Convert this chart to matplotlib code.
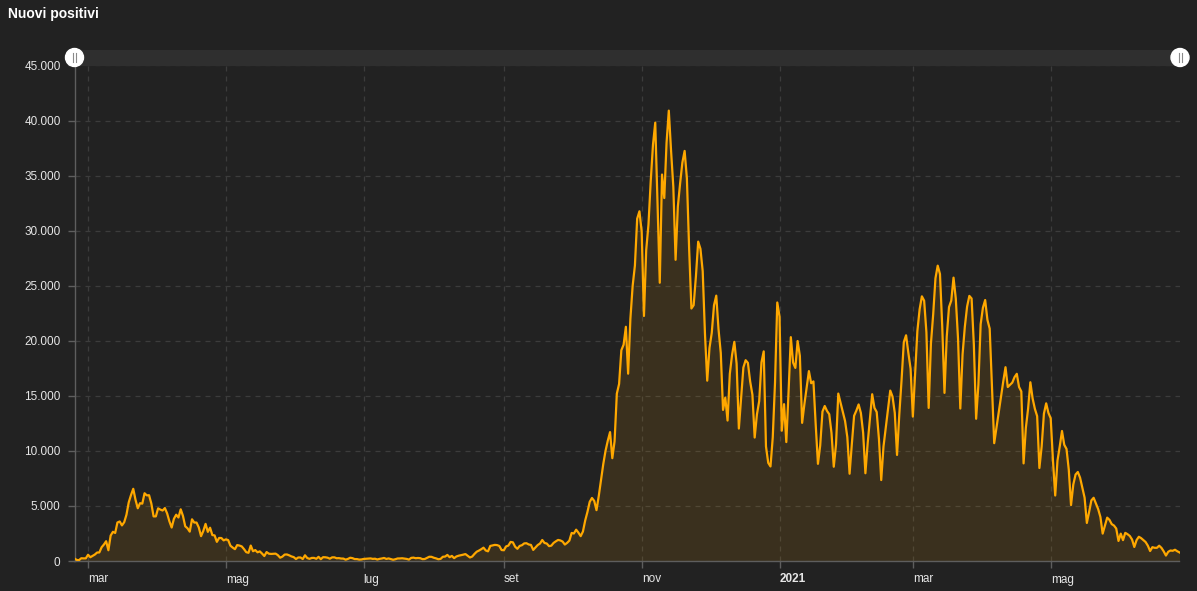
import numpy as np
import matplotlib
matplotlib.use("Agg")
import matplotlib.pyplot as plt
import matplotlib.dates as mdates
from matplotlib.ticker import FuncFormatter, FixedLocator
from matplotlib.patches import Rectangle, Circle
import matplotlib.transforms as mtransforms

# ---- data: daily new positives (Italy), one list per month ----
feb20 = [221, 93, 78, 250, 238, 240]  # from 24 Feb 2020
mar20 = [566, 342, 466, 587, 769, 778, 1247, 1492, 1797, 977, 2313, 2651, 2547, 3497, 3590, 3233,
         3526, 4207, 5322, 5986, 6557, 5560, 4789, 5249, 5210, 6153, 5959, 5974, 5217, 4050, 4053]
apr20 = [4782, 4668, 4585, 4805, 4316, 3599, 3039, 3836, 4204, 3951, 4694, 4092, 3153, 2972, 2667,
         3786, 3493, 3491, 3047, 2256, 2729, 3370, 2646, 3021, 2357, 2324, 1739, 2091, 2086, 1872]
may20 = [1965, 1900, 1389, 1221, 1075, 1444, 1401, 1327, 1083, 802, 744, 1402, 888, 992, 789, 875,
         675, 451, 813, 665, 642, 652, 669, 531, 300, 397, 584, 593, 516, 416, 355]
jun20 = [178, 318, 321, 177, 518, 270, 197, 280, 283, 202, 379, 163, 346, 338, 301, 210, 329, 333,
         251, 262, 224, 218, 122, 190, 296, 259, 175, 174, 126, 142]
jul20 = [187, 201, 223, 235, 192, 208, 138, 193, 229, 276, 188, 234, 169, 114, 162, 230, 233, 249,
         219, 190, 129, 282, 306, 252, 275, 255, 170, 181, 289, 386, 379]
aug20 = [295, 239, 159, 190, 384, 402, 552, 347, 463, 259, 412, 481, 523, 574, 629, 479, 320, 403,
         642, 845, 947, 1071, 1210, 953, 878, 1367, 1411, 1462, 1444, 1365, 996]
sep20 = [978, 1326, 1397, 1733, 1695, 1297, 1108, 1370, 1434, 1597, 1616, 1501, 1458, 1008, 1229,
         1452, 1585, 1907, 1638, 1587, 1350, 1392, 1640, 1786, 1912, 1869, 1766, 1494, 1648, 1851]
oct20 = [2548, 2499, 2844, 2578, 2257, 2677, 3678, 4458, 5372, 5724, 5456, 4619, 5901, 7332, 8804,
         10010, 10925, 11705, 9338, 10874, 15199, 16079, 19143, 19644, 21273, 17012, 21994, 24991,
         26831, 31084, 31758]
nov20 = [29907, 22253, 28244, 30550, 34505, 37809, 39811, 32616, 25271, 35098, 32961, 37978, 40902,
         37255, 33979, 27354, 32191, 34283, 36176, 37242, 34767, 28337, 22930, 23232, 25853, 29003,
         28352, 26323, 20648, 16377]
dec20 = [19350, 20709, 23225, 24099, 21052, 18887, 13720, 14842, 12756, 16999, 18727, 19903, 17938,
         12030, 14844, 17572, 18236, 17992, 16308, 15104, 11212, 13318, 14522, 18040, 19037, 10407,
         8913, 8585, 11224, 16202, 23477]
jan21 = [22211, 11831, 14245, 10800, 15378, 20331, 18020, 17533, 19978, 18627, 12545, 14242, 15774,
         17246, 16146, 16310, 12415, 8824, 10497, 13571, 14078, 13633, 13331, 11629, 8561, 10593,
         15204, 14372, 13574, 12715, 11252]
feb21 = [7925, 10630, 13189, 13659, 14218, 13442, 11641, 7970, 10680, 12956, 15146, 13908, 13532,
         11068, 7351, 10386, 12074, 13762, 15479, 14931, 13452, 9630, 13314, 16424, 19886, 20499,
         18916, 17455]
mar21 = [13114, 17083, 20884, 22865, 24036, 23641, 20765, 13902, 19749, 22409, 25673, 26824, 26062,
         21315, 15267, 20396, 23059, 23649, 25735, 23832, 20159, 13846, 18765, 21267, 23100, 24076,
         23839, 19611, 12916, 16017, 21500]
apr21 = [23000, 23700, 21900, 21100, 15800, 10700, 12100, 13500, 14900, 16300, 17600, 15800, 16000,
         16200, 16700, 17000, 15800, 15400, 8864, 12074, 13844, 16232, 14761, 13817, 13158, 8444,
         10404, 13385, 14320, 13446]
may21 = [12965, 9148, 5948, 9116, 10404, 11807, 10554, 10176, 8292, 5080, 6946, 7852, 8085, 7567,
         6659, 5753, 3455, 4452, 5506, 5741, 5218, 4717, 3995, 2490, 3224, 3937, 3738, 3351, 3220,
         2949, 1820]
jun21 = [2483, 1896, 2557, 2436, 2275, 1953, 1273, 1896, 2199, 2079, 1901, 1723, 1390, 907, 1255,
         1199, 1197, 1390, 1197, 880, 495, 835, 952, 927, 1021, 887, 778]

month_starts = ["2020-02-24", "2020-03-01", "2020-04-01", "2020-05-01", "2020-06-01", "2020-07-01",
                "2020-08-01", "2020-09-01", "2020-10-01", "2020-11-01", "2020-12-01", "2021-01-01",
                "2021-02-01", "2021-03-01", "2021-04-01", "2021-05-01", "2021-06-01"]
month_values = [feb20, mar20, apr20, may20, jun20, jul20, aug20, sep20, oct20, nov20, dec20,
                jan21, feb21, mar21, apr21, may21, jun21]

tick_dates = ["2020-03-01", "2020-05-01", "2020-07-01", "2020-09-01", "2020-11-01",
              "2021-01-01", "2021-03-01", "2021-05-01"]
tick_labels = ["mar", "mag", "lug", "set", "nov", "2021", "mar", "mag"]

title = "Nuovi positivi"

# ---- build series ----
dates = np.concatenate([np.datetime64(s) + np.arange(len(v)) for s, v in zip(month_starts, month_values)])
values = np.concatenate([np.array(v, dtype=float) for v in month_values])
x = mdates.date2num(dates.astype("datetime64[s]").astype(object))

BG = "#222222"
ORANGE = "#ffa800"
GRID = "#3c3c3c"
AX = "#5e5e5e"
TXT = "#e6e6e6"

W, H = 1197, 591
fig = plt.figure(figsize=(W / 100, H / 100), dpi=100, facecolor=BG)
plt.rcParams["font.family"] = ["Liberation Sans", "DejaVu Sans"]

left, right, top, bottom = 74.5, 1179.5, 65.5, 561
ax = fig.add_axes([left / W, (H - bottom) / H, (right - left) / W, (bottom - top) / H])
ax.set_facecolor(BG)

ax.fill_between(x, values, 0, color=ORANGE, alpha=0.11, linewidth=0, zorder=2)
ax.plot(x, values, color=ORANGE, lw=1.6, zorder=3, solid_joinstyle="round")

ax.set_ylim(0, 45000)
ax.set_xlim(x[0], x[-1])
ax.yaxis.set_major_locator(FixedLocator(np.arange(0, 45001, 5000)))
ax.yaxis.set_major_formatter(FuncFormatter(lambda v, p: f"{int(v):,}".replace(",", ".")))

tx = mdates.date2num(np.array(tick_dates, dtype="datetime64[s]").astype(object))
ax.set_xticks(tx)
ax.set_xticklabels(tick_labels)
offset = mtransforms.ScaledTranslation(4 / 100, 1.5 / 100, fig.dpi_scale_trans)
for lab, t in zip(ax.get_xticklabels(), tick_labels):
    lab.set_horizontalalignment("left")
    lab.set_transform(lab.get_transform() + offset)
    if t == "2021":
        lab.set_fontweight("bold")

ax.tick_params(axis="y", colors=AX, labelcolor=TXT, labelsize=8.5, length=5, width=1, pad=5)
ax.tick_params(axis="x", colors=AX, labelcolor=TXT, labelsize=8.5, length=5, width=1, pad=4)

ax.grid(True, axis="both", color=GRID, linestyle=(0, (4, 4)), lw=0.9, zorder=0)
for s in ["top", "right"]:
    ax.spines[s].set_visible(False)
for s in ["left", "bottom"]:
    ax.spines[s].set_color(AX)
    ax.spines[s].set_linewidth(1)

# ---- overlay: title and range slider decoration (pixel coordinates) ----
ov = fig.add_axes([0, 0, 1, 1], facecolor="none")
ov.set_xlim(0, W)
ov.set_ylim(H, 0)
ov.axis("off")
ov.text(8, 14, title, color="white", fontsize=10, fontweight="bold", va="center", ha="left")
ov.add_patch(Rectangle((left, 50), 1180 - left, 15.5, color="#2f2f2f", lw=0, zorder=1))
for cx in (left, 1180):
    ov.add_patch(Circle((cx, 57.5), 9, color="white", zorder=3))
    ov.plot([cx - 1.5, cx - 1.5], [53, 62], color="#8a8a8a", lw=0.8, zorder=4)
    ov.plot([cx + 1.5, cx + 1.5], [53, 62], color="#8a8a8a", lw=0.8, zorder=4)

fig.savefig("out.png", dpi=100, facecolor=BG)
